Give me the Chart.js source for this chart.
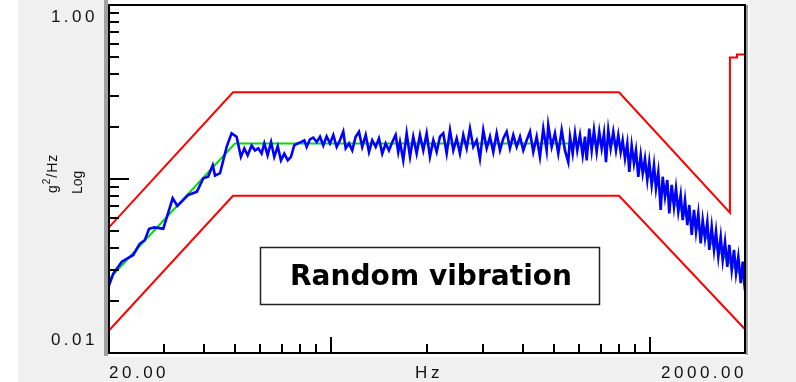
<!DOCTYPE html>
<html lang="en">

<head>
  <title>Random vibration PSD</title>
  <script src="https://cdn.jsdelivr.net/npm/chart.js"></script>
  <meta charset="utf-8"/>
  <style>
    body {
      margin: 0;
      background: #fff;
    }
    #chart {
      width: 796px;
      height: 382px;
    }
  </style>
</head>

<body>
  <div id="chart">
    <canvas id="my_chart" width="796" height="382"></canvas>
  </div>

<script>
// measured response (Hz / g^2/Hz)
var blueHz = [
  20.0, 20.8, 22.1, 24.0, 25.1, 26.1, 26.9, 28.0, 29.8, 31.9,
  33.0, 35.7, 38.0, 39.8, 41.2, 42.6, 43.3, 44.9, 47.1, 48.8,
  50.6, 52.2, 53.5, 54.8, 56.4, 57.8, 59.2, 60.6, 61.8, 63.3,
  64.9, 66.4, 68.1, 69.7, 71.4, 73.2, 74.9, 76.7, 78.6, 80.5,
  82.5, 83.9, 85.9, 88.0, 90.2, 92.4, 94.6, 96.9, 99.3, 101.7,
  104.2, 106.7, 109.3, 111.2, 113.9, 116.6, 119.5, 122.4, 125.3, 128.5,
  131.6, 134.7, 138.1, 141.4, 144.8, 148.4, 152.0, 155.7, 159.5, 162.5,
  164.6, 168.5, 172.7, 176.9, 181.1, 185.6, 190.1, 194.7, 199.5, 204.3,
  209.3, 214.5, 219.6, 224.9, 230.5, 236.1, 241.8, 247.8, 253.7, 259.9,
  266.3, 272.7, 279.3, 286.3, 293.1, 300.2, 307.7, 315.1, 322.7, 330.7,
  338.7, 346.9, 355.5, 364.0, 372.8, 382.1, 391.3, 400.7, 410.7, 420.6,
  430.7, 441.4, 452.0, 462.9, 474.4, 479.9, 491.9, 503.7, 515.9, 528.7,
  541.4, 554.5, 561.4, 572.4, 582.0, 591.7, 603.3, 615.2, 625.5, 633.3,
  645.3, 656.5, 667.5, 680.6, 693.5, 705.7, 717.5, 727.9, 740.1, 753.0,
  767.3, 782.4, 795.5, 809.4, 821.2, 835.0, 849.0, 861.3, 876.3, 891.0,
  904.0, 919.1, 935.2, 948.8, 964.7, 980.8, 995.1, 1012.5, 1029.5, 1044.4,
  1061.9, 1080.5, 1096.2, 1114.5, 1133.2, 1149.6, 1169.7, 1189.3, 1206.7, 1226.9,
  1248.3, 1266.5, 1287.7, 1309.4, 1328.4, 1351.6, 1374.2, 1394.2, 1417.5, 1442.3,
  1463.3, 1487.8, 1512.7, 1534.6, 1561.4, 1587.6, 1610.7, 1637.7, 1666.3, 1690.6,
  1718.9, 1747.7, 1773.1, 1804.0, 1834.2, 1861.0, 1892.2, 1925.2, 1953.2, 1971.0,
  1985.4
];
var bluePsd = [
  0.0236, 0.0287, 0.0335, 0.0366, 0.0423, 0.0446, 0.0517, 0.0527, 0.0517, 0.0775,
  0.070, 0.081, 0.0846, 0.101, 0.103, 0.120, 0.1045, 0.108, 0.153, 0.183,
  0.175, 0.134, 0.150, 0.137, 0.156, 0.146, 0.150, 0.140, 0.160, 0.137,
  0.163, 0.134, 0.154, 0.128, 0.140, 0.128, 0.134, 0.156, 0.160, 0.163,
  0.167, 0.153, 0.169, 0.173, 0.163, 0.175, 0.156, 0.176, 0.160, 0.179,
  0.153, 0.167, 0.187, 0.150, 0.160, 0.146, 0.175, 0.187, 0.153, 0.179,
  0.143, 0.167, 0.153, 0.171, 0.140, 0.160, 0.146, 0.163, 0.179, 0.143,
  0.163, 0.128, 0.183, 0.134, 0.175, 0.140, 0.179, 0.146, 0.183, 0.134,
  0.167, 0.143, 0.175, 0.183, 0.140, 0.191, 0.146, 0.171, 0.140, 0.179,
  0.150, 0.195, 0.153, 0.167, 0.131, 0.191, 0.150, 0.175, 0.143, 0.183,
  0.146, 0.171, 0.187, 0.150, 0.179, 0.153, 0.175, 0.146, 0.167, 0.187,
  0.143, 0.175, 0.134, 0.195, 0.146, 0.204, 0.153, 0.183, 0.140, 0.191,
  0.146, 0.125, 0.175, 0.140, 0.183, 0.146, 0.179, 0.137, 0.175, 0.128,
  0.195, 0.146, 0.191, 0.143, 0.187, 0.150, 0.183, 0.125, 0.191, 0.150,
  0.187, 0.146, 0.179, 0.143, 0.167, 0.131, 0.160, 0.110, 0.156, 0.123,
  0.146, 0.103, 0.137, 0.108, 0.131, 0.0987, 0.125, 0.0924, 0.120, 0.0884,
  0.110, 0.0664, 0.103, 0.0791, 0.0987, 0.0635, 0.0924, 0.0693, 0.0884, 0.0649,
  0.0809, 0.0581, 0.0757, 0.0544, 0.0709, 0.0477, 0.0664, 0.0498, 0.0635, 0.0427,
  0.0581, 0.0456, 0.0568, 0.0391, 0.0532, 0.0391, 0.0498, 0.0358, 0.0466, 0.0342,
  0.0436, 0.0313, 0.0418, 0.0300, 0.0391, 0.0287, 0.0358, 0.0252, 0.0335, 0.0263,
  0.0230
];

// reference profile
var refHz = [20, 50, 800, 2000];
var refPsd = [0.0262, 0.16, 0.16, 0.0262];

// alarm limits
var upperHz = [20, 49.3, 800, 1781, 1781, 1874, 1874, 2000];
var upperPsd = [0.052, 0.315, 0.315, 0.064, 0.50, 0.50, 0.52, 0.52];
var lowerHz = [20, 49.3, 800, 2000];
var lowerPsd = [0.0133, 0.08, 0.08, 0.0135];

// axis ticks
var xMinorTicks = [30, 40, 50, 60, 70, 80, 90, 200, 300, 400, 500, 600, 700, 800, 900];
var xMajorTicks = [100, 1000];
var yMinorTicks = [0.02, 0.03, 0.04, 0.05, 0.06, 0.07, 0.08, 0.09, 0.2, 0.3, 0.4, 0.5, 0.6, 0.7, 0.8, 0.9];
var yMajorTicks = [0.1];

var xLabels = ['20.00', 'Hz', '2000.00'];
var yLabels = ['1.00', '0.01'];
var boxTitle = 'Random vibration';

function toPoints (xs, ys) {
  return xs.map((x, i) => ({ x: x, y: ys[i] }));
}

const framePlugin = {
  id: 'frame',
  beforeDraw (chart) {
    const c = chart.ctx;
    c.save();
    c.fillStyle = '#fff';
    c.fillRect(0, 0, 796, 382);
    c.fillStyle = '#f0f0f0';
    c.fillRect(18, 0, 778, 382);
    c.fillStyle = '#fff';
    c.fillRect(105, 0, 645, 357);
    c.restore();
  },
  afterDatasetsDraw (chart) {
    const c = chart.ctx;
    const a = chart.chartArea;
    const xs = chart.scales.x;
    const ys = chart.scales.y;
    c.save();

    // axis frame
    c.fillStyle = '#a0a0a0';
    c.fillRect(a.left - 4, 0, 4, a.bottom + 3);
    c.fillRect(a.right, a.top, 2, a.bottom - a.top + 2);
    c.fillStyle = '#000';
    c.fillRect(a.left, a.top - 1, a.right - a.left, 2);
    c.fillRect(a.left, a.top - 1, 2, a.bottom - a.top + 2);
    c.fillRect(a.right - 2, a.top - 1, 2, a.bottom - a.top + 2);
    c.fillRect(a.left, a.bottom - 1, a.right - a.left, 2);

    // inward ticks
    yMinorTicks.forEach(v => {
      const py = Math.round(ys.getPixelForValue(v));
      c.fillRect(a.left, py - 1, 11, 2);
    });
    yMajorTicks.forEach(v => {
      const py = Math.round(ys.getPixelForValue(v));
      c.fillRect(a.left, py - 1, 21, 2);
    });
    xMinorTicks.forEach(v => {
      const px = Math.round(xs.getPixelForValue(v));
      c.fillRect(px - 1, a.bottom - 9, 2, 9);
    });
    xMajorTicks.forEach(v => {
      const px = Math.round(xs.getPixelForValue(v));
      c.fillRect(px - 1, a.bottom - 16, 2, 16);
    });

    // tick labels
    c.font = '17px "Liberation Sans", Arial, sans-serif';
    c.letterSpacing = '3.5px';
    c.fillStyle = '#111';
    c.textBaseline = 'middle';
    c.textAlign = 'right';
    c.fillText(yLabels[0], 98, 17);
    c.fillText(yLabels[1], 98, 340);
    c.textAlign = 'left';
    c.fillText(xLabels[0], 109, 373);
    c.textAlign = 'center';
    c.fillText(xLabels[1], 429, 373);
    c.textAlign = 'right';
    c.fillText(xLabels[2], 747, 373);

    // y axis title: g^2/Hz and Log, rotated
    c.letterSpacing = '1px';
    c.textAlign = 'left';
    c.textBaseline = 'alphabetic';
    c.save();
    c.translate(57, 193);
    c.rotate(-Math.PI / 2);
    c.font = '14px "Liberation Sans", Arial, sans-serif';
    c.fillText('g', 0, 0);
    let gx = c.measureText('g').width;
    c.font = '10px "Liberation Sans", Arial, sans-serif';
    c.fillText('2', gx, -7);
    gx += c.measureText('2').width;
    c.font = '14px "Liberation Sans", Arial, sans-serif';
    c.fillText('/Hz', gx, 0);
    c.restore();
    c.save();
    c.translate(82, 194);
    c.rotate(-Math.PI / 2);
    c.font = '14px "Liberation Sans", Arial, sans-serif';
    c.letterSpacing = '0px';
    c.fillText('Log', 0, 0);
    c.restore();

    // title box
    c.fillStyle = '#fff';
    c.fillRect(260, 247, 340, 58);
    c.strokeStyle = '#222';
    c.lineWidth = 1.5;
    c.strokeRect(260.5, 247.5, 339, 57);
    c.font = 'bold 28px "DejaVu Sans", Verdana, sans-serif';
    c.letterSpacing = '0px';
    const w = c.measureText(boxTitle).width;
    const sp = Math.max(0, (282 - w) / boxTitle.length);
    c.letterSpacing = sp + 'px';
    c.fillStyle = '#000';
    c.textAlign = 'center';
    c.textBaseline = 'middle';
    c.fillText(boxTitle, 431 + sp / 2, 278);

    c.restore();
  }
};

var psdChart;
window.onload = function () {
  const data = {
    datasets: [
      {
        label: 'Measured',
        data: toPoints(blueHz, bluePsd),
        borderColor: '#0000ff',
        borderWidth: 2.6
      },
      {
        label: 'Reference',
        data: toPoints(refHz, refPsd),
        borderColor: '#00dd00',
        borderWidth: 2
      },
      {
        label: 'Upper limit',
        data: toPoints(upperHz, upperPsd),
        borderColor: '#ff0000',
        borderWidth: 2
      },
      {
        label: 'Lower limit',
        data: toPoints(lowerHz, lowerPsd),
        borderColor: '#ff0000',
        borderWidth: 2
      }
    ]
  };

  const config = {
    type: 'scatter',
    data: data,
    options: {
      responsive: false,
      animation: false,
      showLine: true,
      layout: {
        padding: { left: 108, right: 50, top: 5, bottom: 29 }
      },
      elements: {
        point: { radius: 0 },
        line: { tension: 0 }
      },
      plugins: {
        legend: { display: false },
        tooltip: { enabled: false }
      },
      scales: {
        x: { type: 'logarithmic', min: 20, max: 2000, display: false },
        y: { type: 'logarithmic', min: 0.01, max: 1, display: false }
      }
    },
    plugins: [framePlugin]
  };

  const ctx = document.getElementById('my_chart').getContext('2d');
  psdChart = new Chart(ctx, config);
}
</script>

</body>

</html>
